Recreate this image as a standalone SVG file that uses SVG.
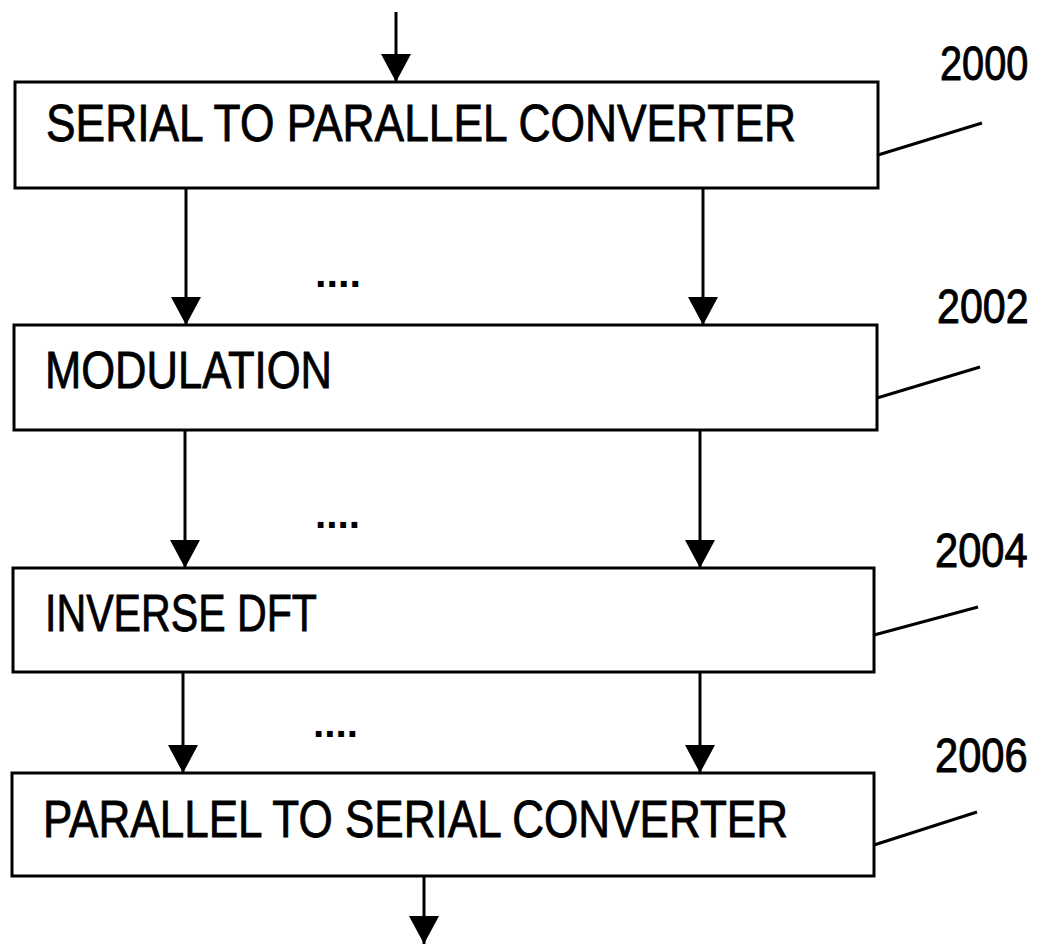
<svg xmlns="http://www.w3.org/2000/svg" width="1039" height="945" viewBox="0 0 1039 945">
<defs>
<style>
.box{fill:#fff;stroke:#000;stroke-width:3}
.lbl{font-family:"Liberation Sans",Arial,sans-serif;font-size:51px;fill:#000;stroke:#000;stroke-width:0.8}
.num{font-family:"Liberation Sans",Arial,sans-serif;font-size:49px;fill:#000;stroke:#000;stroke-width:1}
.dots{font-family:"Liberation Sans",Arial,sans-serif;font-size:40px;font-weight:bold;fill:#000}
.arr{stroke:#000;stroke-width:3;fill:none;marker-end:url(#ah)}
.lead{stroke:#000;stroke-width:3;fill:none}
</style>
<marker id="ah" markerUnits="userSpaceOnUse" markerWidth="32" markerHeight="30" refX="28" refY="15" orient="auto">
<path d="M0,0 L28,15 L0,30 Z" fill="#000"/>
</marker>
</defs>
<rect width="1039" height="945" fill="#fff"/>
<g id="connectors">
<line class="arr" x1="396" y1="12" x2="396" y2="82"/>
<line class="arr" x1="186" y1="188" x2="186" y2="325"/>
<line class="arr" x1="703" y1="188" x2="703" y2="325"/>
<line class="arr" x1="185" y1="430" x2="185" y2="568"/>
<line class="arr" x1="700" y1="430" x2="700" y2="568"/>
<line class="arr" x1="183" y1="672" x2="183" y2="773"/>
<line class="arr" x1="700" y1="672" x2="700" y2="773"/>
<line class="arr" x1="424" y1="876" x2="424" y2="944"/>
<line class="lead" x1="878" y1="155" x2="982" y2="123"/>
<line class="lead" x1="877" y1="398" x2="980" y2="367"/>
<line class="lead" x1="874" y1="635" x2="978" y2="607"/>
<line class="lead" x1="874" y1="845" x2="977" y2="812"/>
<text class="dots" x="315" y="287" textLength="46" lengthAdjust="spacingAndGlyphs">....</text>
<text class="dots" x="315" y="528" textLength="45" lengthAdjust="spacingAndGlyphs">....</text>
<text class="dots" x="313" y="737" textLength="45" lengthAdjust="spacingAndGlyphs">....</text>
</g>
<g id="n2000">
<rect class="box" x="15" y="82" width="863" height="106"/>
<text class="lbl" x="46" y="141" textLength="750" lengthAdjust="spacingAndGlyphs">SERIAL TO PARALLEL CONVERTER</text>
<text class="num" transform="translate(940,80) scale(0.81,1)">2000</text>
</g>
<g id="n2002">
<rect class="box" x="14" y="325" width="863" height="105"/>
<text class="lbl" x="45" y="388" textLength="287" lengthAdjust="spacingAndGlyphs">MODULATION</text>
<text class="num" transform="translate(937,323) scale(0.84,1)">2002</text>
</g>
<g id="n2004">
<rect class="box" x="13" y="568" width="861" height="104"/>
<text class="lbl" x="45" y="631" textLength="272" lengthAdjust="spacingAndGlyphs">INVERSE DFT</text>
<text class="num" transform="translate(935,567) scale(0.85,1)">2004</text>
</g>
<g id="n2006">
<rect class="box" x="12" y="773" width="862" height="103"/>
<text class="lbl" x="43" y="837" textLength="745" lengthAdjust="spacingAndGlyphs">PARALLEL TO SERIAL CONVERTER</text>
<text class="num" transform="translate(935,772) scale(0.85,1)">2006</text>
</g>
</svg>
